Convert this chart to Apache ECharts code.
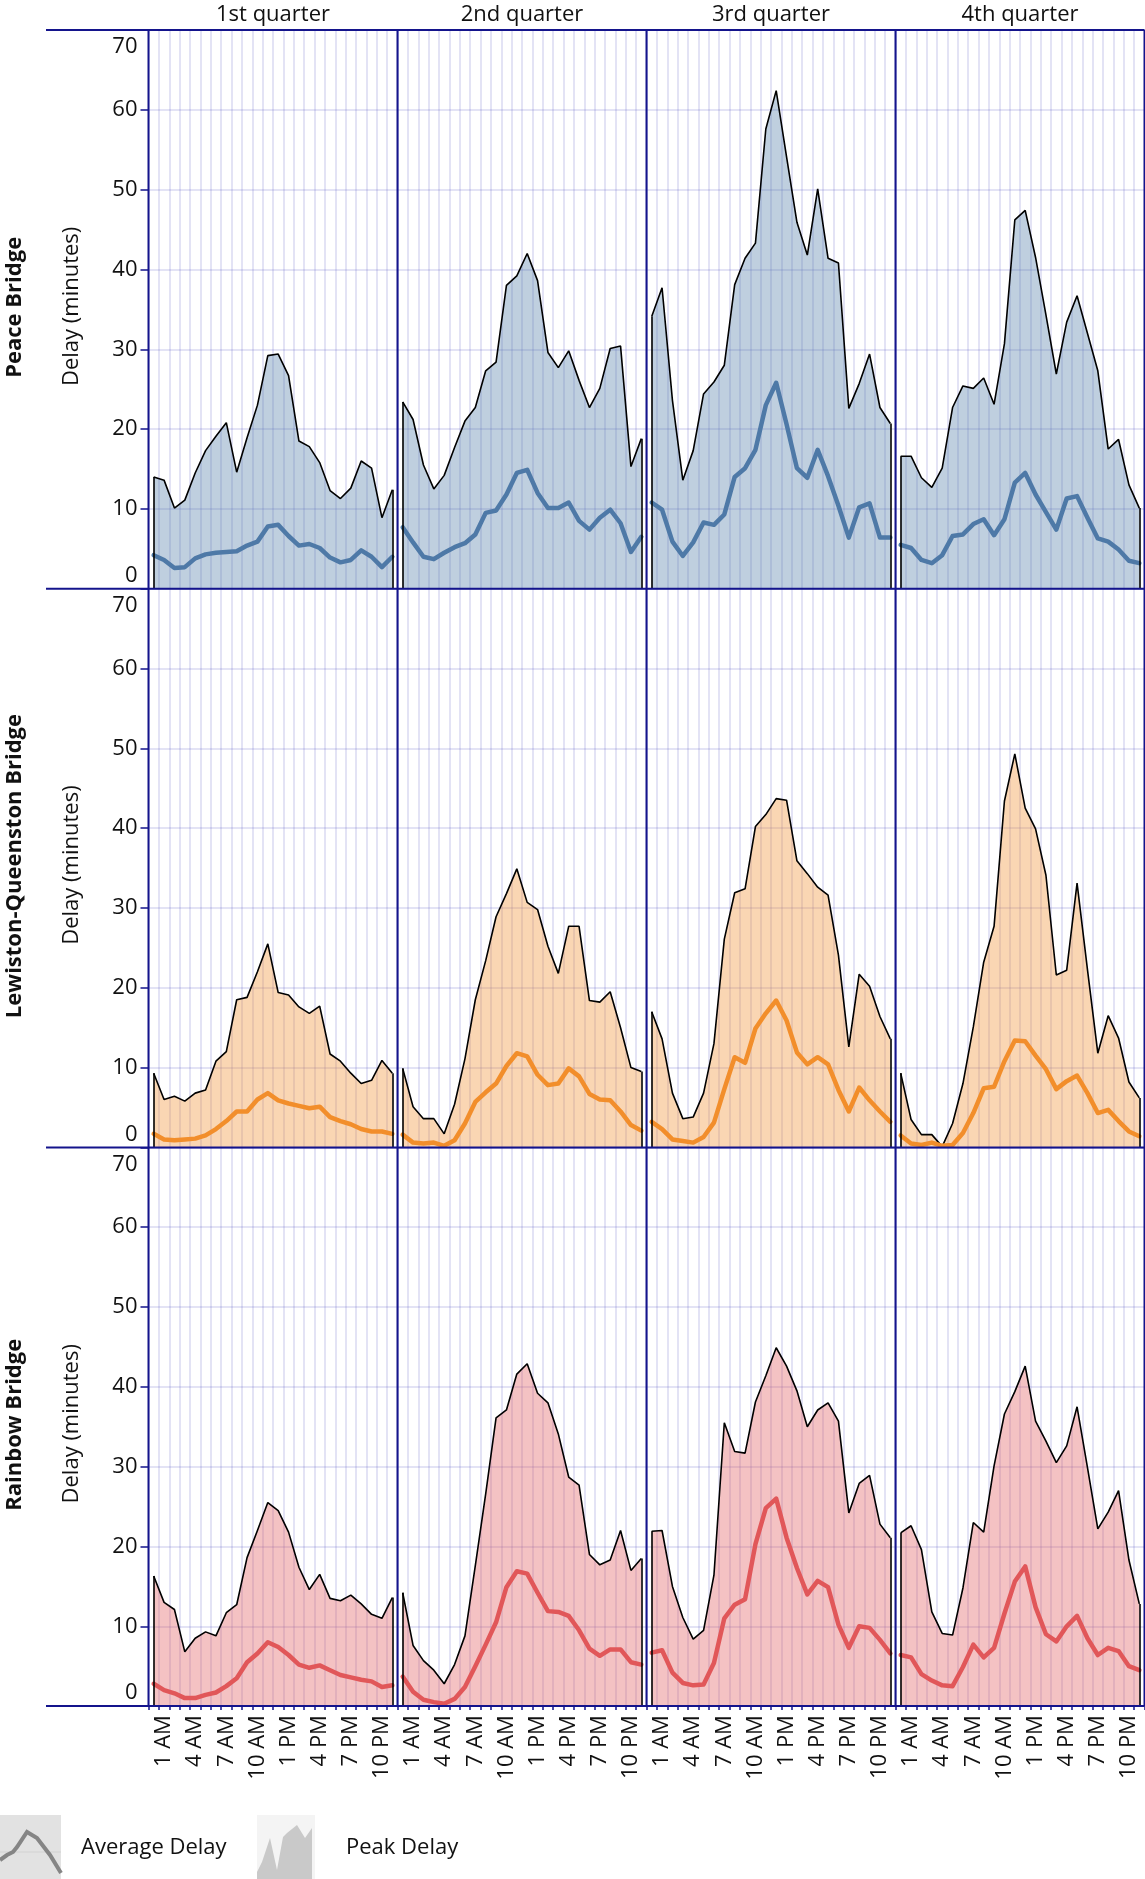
<!DOCTYPE html>
<html><head><meta charset="utf-8">
<script src="https://cdn.jsdelivr.net/npm/echarts@6/dist/echarts.min.js"></script>
<style>html,body{margin:0;padding:0;background:#fff}#c{width:1145px;height:1879px}</style>
</head><body><div id="c"></div>
<script>
// ---------- categories / labels ----------
const hours = ['12 AM','1 AM','2 AM','3 AM','4 AM','5 AM','6 AM','7 AM','8 AM','9 AM','10 AM','11 AM',
               '12 PM','1 PM','2 PM','3 PM','4 PM','5 PM','6 PM','7 PM','8 PM','9 PM','10 PM','11 PM'];
const quarters = ['1st quarter','2nd quarter','3rd quarter','4th quarter'];
const bridges = ['Peace Bridge','Lewiston-Queenston Bridge','Rainbow Bridge'];
const yMin = 0, yMax = 70, yStep = 10;
const legendNames = ['Average Delay','Peak Delay'];

// ---------- Peace Bridge ----------
const peace_peak_q1 = [14.0,13.6,10.1,11.1,14.5,17.3,19.1,20.8,14.6,18.9,23.0,29.2,29.4,26.7,18.5,17.8,15.8,12.3,11.3,12.6,16.0,15.1,8.9,12.4];
const peace_avg_q1  = [4.2,3.6,2.6,2.7,3.8,4.3,4.5,4.6,4.7,5.4,5.9,7.8,8.0,6.6,5.4,5.6,5.1,3.9,3.3,3.6,4.8,4.0,2.7,4.0];
const peace_peak_q2 = [23.4,21.2,15.5,12.5,14.2,17.7,21.0,22.7,27.3,28.4,38.0,39.2,42.0,38.6,29.6,27.7,29.8,26.1,22.7,25.1,30.1,30.4,15.3,18.8];
const peace_avg_q2  = [7.7,5.8,4.0,3.7,4.5,5.2,5.7,6.8,9.5,9.8,11.8,14.5,14.9,12.0,10.1,10.1,10.8,8.5,7.4,8.9,9.9,8.2,4.6,6.5];
const peace_peak_q3 = [34.1,37.7,23.6,13.6,17.3,24.4,25.9,28.0,38.1,41.4,43.3,57.6,62.4,54.1,45.9,41.8,50.1,41.4,40.8,22.6,25.7,29.4,22.7,20.7];
const peace_avg_q3  = [10.8,9.9,5.9,4.1,5.8,8.3,8.0,9.3,14.0,15.1,17.4,23.0,25.8,20.6,15.1,13.9,17.4,14.1,10.4,6.4,10.2,10.7,6.4,6.4];
const peace_peak_q4 = [16.6,16.6,13.9,12.7,15.1,22.7,25.4,25.1,26.4,23.1,30.7,46.2,47.4,41.5,34.3,26.9,33.4,36.7,32.0,27.3,17.5,18.7,13.0,10.1];
const peace_avg_q4  = [5.5,5.1,3.6,3.2,4.2,6.6,6.8,8.1,8.7,6.7,8.7,13.3,14.5,11.8,9.6,7.4,11.3,11.6,8.9,6.3,5.9,4.9,3.5,3.2];

// ---------- Lewiston-Queenston Bridge ----------
const lq_peak_q1 = [9.3,6.0,6.4,5.8,6.8,7.2,10.8,12.0,18.5,18.8,22.0,25.5,19.4,19.1,17.6,16.8,17.7,11.7,10.8,9.3,8.0,8.4,10.9,9.3];
const lq_avg_q1  = [1.7,1.0,0.9,1.0,1.1,1.5,2.3,3.3,4.5,4.5,6.0,6.8,5.9,5.5,5.2,4.9,5.1,3.8,3.3,2.9,2.3,2.0,2.0,1.7];
const lq_peak_q2 = [9.9,5.1,3.6,3.6,1.7,5.4,11.1,18.5,23.4,28.9,31.8,34.9,30.7,29.8,25.2,21.8,27.7,27.7,18.4,18.2,19.5,15.0,10.0,9.5];
const lq_avg_q2  = [1.6,0.6,0.5,0.6,0.2,0.9,3.0,5.7,6.9,8.0,10.2,11.8,11.4,9.1,7.8,8.0,9.9,8.9,6.7,6.0,5.9,4.5,2.8,2.1];
const lq_peak_q3 = [17.0,13.6,6.8,3.6,3.8,6.8,13.0,26.1,31.9,32.4,40.2,41.7,43.7,43.5,35.9,34.3,32.6,31.6,24.1,12.6,21.7,20.2,16.4,13.6];
const lq_avg_q3  = [3.2,2.3,1.0,0.8,0.6,1.3,3.1,7.3,11.3,10.6,14.9,16.8,18.4,15.9,11.9,10.4,11.3,10.4,7.2,4.5,7.5,5.9,4.5,3.2];
const lq_peak_q4 = [9.3,3.5,1.6,1.6,0.1,3.0,8.0,15.1,23.2,27.7,43.4,49.3,42.5,39.9,34.1,21.6,22.2,33.1,22.3,11.8,16.5,13.7,8.2,6.2];
const lq_avg_q4  = [1.5,0.5,0.3,0.6,0.2,0.3,1.8,4.3,7.4,7.6,10.8,13.4,13.3,11.5,9.8,7.3,8.3,9.0,6.8,4.3,4.7,3.3,2.0,1.4];

// ---------- Rainbow Bridge ----------
const rb_peak_q1 = [16.3,13.0,12.1,6.8,8.5,9.3,8.8,11.7,12.7,18.6,22.0,25.5,24.5,21.8,17.4,14.6,16.5,13.5,13.2,13.9,12.8,11.5,11.0,13.6];
const rb_avg_q1  = [2.8,2.0,1.6,1.0,1.0,1.4,1.7,2.5,3.5,5.5,6.6,8.0,7.4,6.4,5.2,4.8,5.1,4.5,3.9,3.6,3.3,3.1,2.4,2.6];
const rb_peak_q2 = [14.2,7.6,5.7,4.5,2.8,5.2,8.8,17.6,26.6,36.1,37.1,41.6,42.9,39.2,38.0,34.1,28.7,27.7,19.0,17.7,18.3,22.0,17.0,18.5];
const rb_avg_q2  = [3.7,1.8,0.8,0.5,0.3,0.9,2.4,5.0,7.7,10.5,14.9,16.9,16.6,14.2,11.9,11.8,11.3,9.5,7.2,6.3,7.1,7.1,5.5,5.2];
const rb_peak_q3 = [21.9,22.0,15.0,11.1,8.4,9.5,16.4,35.5,31.9,31.7,38.1,41.4,44.9,42.6,39.5,35.0,37.1,38.0,35.7,24.2,27.9,28.9,22.8,21.1];
const rb_avg_q3  = [6.7,7.0,4.2,2.9,2.6,2.7,5.4,11.0,12.7,13.4,20.3,24.8,26.0,21.1,17.3,14.0,15.7,14.9,10.2,7.3,10.0,9.8,8.3,6.6];
const rb_peak_q4 = [21.7,22.6,19.6,11.8,9.1,8.9,14.8,23.0,21.8,30.1,36.6,39.4,42.6,35.7,33.2,30.5,32.6,37.5,29.9,22.2,24.3,27.0,18.3,12.8];
const rb_avg_q4  = [6.4,6.1,4.0,3.2,2.6,2.5,4.9,7.7,6.1,7.3,11.6,15.6,17.5,12.4,9.0,8.1,10.0,11.3,8.5,6.4,7.3,6.9,5.0,4.5];

const peakData = [
  [peace_peak_q1, peace_peak_q2, peace_peak_q3, peace_peak_q4],
  [lq_peak_q1, lq_peak_q2, lq_peak_q3, lq_peak_q4],
  [rb_peak_q1, rb_peak_q2, rb_peak_q3, rb_peak_q4]
];
const avgData = [
  [peace_avg_q1, peace_avg_q2, peace_avg_q3, peace_avg_q4],
  [lq_avg_q1, lq_avg_q2, lq_avg_q3, lq_avg_q4],
  [rb_avg_q1, rb_avg_q2, rb_avg_q3, rb_avg_q4]
];

// ---------- styling ----------
const lineColors = ['#4e79a7', '#f28e2b', '#e15759'];
const fillColors = ['rgba(78,121,167,0.36)', 'rgba(242,142,43,0.36)', 'rgba(225,87,89,0.36)'];
const NAVY = '#14148c';
const GRID = 'rgba(70,70,190,0.2)';
const FONT = '"Open Sans", "Noto Sans", sans-serif';
const TXT = '#111';
const FS = 22;

const L0 = 148.5, CW = 249, T0 = 30, RH = 558.7;

const grids = [], xAxes = [], yAxes = [], series = [];
let gi = 0;
for (let r = 0; r < 3; r++) {
  for (let c = 0; c < 4; c++) {
    grids.push({ left: L0 + c * CW, top: T0 + r * RH, width: CW, height: RH, containLabel: false });
    xAxes.push({
      type: 'category', data: hours, gridIndex: gi, boundaryGap: true,
      axisLine: { show: false },
      axisTick: { show: r === 2, interval: 0, length: 4, lineStyle: { color: NAVY, width: 1.5 } },
      axisLabel: { show: r === 2, rotate: 90, interval: (i) => i % 3 === 1, margin: 9,
                   fontSize: FS, fontFamily: FONT, color: TXT },
      splitLine: { show: true, interval: 0, lineStyle: { color: GRID, width: 1.5 } }
    });
    yAxes.push({
      type: 'value', gridIndex: gi, min: yMin, max: yMax, interval: yStep,
      axisLine: { show: false },
      axisTick: { show: c === 0, length: 8, lineStyle: { color: NAVY, width: 1.5 } },
      axisLabel: { show: c === 0, margin: 11, fontSize: FS, fontFamily: FONT, color: TXT,
                   verticalAlignMinLabel: 'bottom', verticalAlignMaxLabel: 'top',
                   formatter: (v) => v === yMax ? '{mx|' + v + '}' : (v === yMin ? '{mn|' + v + '}' : String(v)),
                   rich: {
                     mx: { fontSize: FS, fontFamily: FONT, color: TXT, padding: [6, 0, 0, 0] },
                     mn: { fontSize: FS, fontFamily: FONT, color: TXT, padding: [0, 0, 2, 0] }
                   } },
      splitLine: { show: true, lineStyle: { color: GRID, width: 1.5 } }
    });
    const pk = peakData[r][c];
    series.push({
      name: legendNames[1], type: 'line', xAxisIndex: gi, yAxisIndex: gi, data: pk,
      symbol: 'none', z: 2, silent: true,
      lineStyle: { color: '#000', width: 1.6 },
      areaStyle: { color: fillColors[r], opacity: 1 },
      markLine: {
        silent: true, symbol: ['none', 'none'], label: { show: false }, animation: false,
        lineStyle: { color: '#000', width: 1.6, type: 'solid' },
        emphasis: { disabled: true },
        data: [
          [{ coord: [hours[0], 0] }, { coord: [hours[0], pk[0]] }],
          [{ coord: [hours[23], 0] }, { coord: [hours[23], pk[23]] }]
        ]
      }
    });
    series.push({
      name: legendNames[0], type: 'line', xAxisIndex: gi, yAxisIndex: gi, data: avgData[r][c],
      symbol: 'none', z: 3, silent: true,
      lineStyle: { color: lineColors[r], width: 4.5, join: 'round', cap: 'round' }
    });
    gi++;
  }
}

// ---------- frame, headers, labels, legend ----------
const graphic = [];
const right = L0 + 4 * CW;
for (let r = 0; r <= 3; r++) {
  const y = T0 + r * RH;
  graphic.push({ type: 'line', z: 100, shape: { x1: 46, y1: y, x2: right, y2: y }, style: { stroke: NAVY, lineWidth: 2 } });
}
for (let c = 0; c <= 4; c++) {
  const x = L0 + c * CW;
  graphic.push({ type: 'line', z: 100, shape: { x1: x, y1: T0, x2: x, y2: T0 + 3 * RH }, style: { stroke: NAVY, lineWidth: 2 } });
}
const txtStyle = (text, font, align) => ({ text, font, fill: TXT, textAlign: align, textVerticalAlign: 'middle', align, verticalAlign: 'middle' });
quarters.forEach((q, c) => {
  graphic.push({ type: 'text', z: 100, x: L0 + (c + 0.5) * CW, y: 15, style: txtStyle(q, FS + 'px ' + FONT, 'center') });
});
bridges.forEach((b, r) => {
  const cy = T0 + (r + 0.5) * RH;
  graphic.push({ type: 'text', z: 100, x: 15, y: cy - 2, rotation: Math.PI / 2, style: txtStyle(b, 'bold 22px ' + FONT, 'center') });
  graphic.push({ type: 'text', z: 100, x: 72, y: cy - 3, rotation: Math.PI / 2, style: txtStyle('Delay (minutes)', FS + 'px ' + FONT, 'center') });
});
// legend icons (decorative swatches)
graphic.push({ type: 'rect', z: 100, shape: { x: 0, y: 1815, width: 61, height: 64 }, style: { fill: '#e2e2e2' } });
graphic.push({ type: 'line', z: 100, shape: { x1: 0, y1: 1852, x2: 61, y2: 1852 }, style: { stroke: '#d2d2d2', lineWidth: 1 } });
graphic.push({ type: 'polyline', z: 101, shape: { points: [[0,1860],[7,1855],[13,1852],[17,1847],[27,1832],[37,1838],[50,1855],[61,1873]] },
  style: { stroke: '#858585', lineWidth: 4, fill: null } });
graphic.push({ type: 'rect', z: 100, shape: { x: 257, y: 1815, width: 58, height: 64 }, style: { fill: '#f4f4f4' } });
graphic.push({ type: 'polygon', z: 101, shape: { points: [[257,1879],[257,1872],[262,1862],[270,1838],[277,1870],[283,1837],[287,1833],[297,1825],[305,1838],[312,1828],[312,1879]] },
  style: { fill: '#c9c9c9' } });
graphic.push({ type: 'text', z: 100, x: 81, y: 1848, style: txtStyle(legendNames[0], FS + 'px ' + FONT, 'left') });
graphic.push({ type: 'text', z: 100, x: 346, y: 1848, style: txtStyle(legendNames[1], FS + 'px ' + FONT, 'left') });

const chart = echarts.init(document.getElementById('c'), null, { renderer: 'canvas' });
chart.setOption({
  animation: false,
  backgroundColor: '#fff',
  textStyle: { fontFamily: FONT },
  grid: grids, xAxis: xAxes, yAxis: yAxes, series: series, graphic: graphic
});
</script></body></html>
